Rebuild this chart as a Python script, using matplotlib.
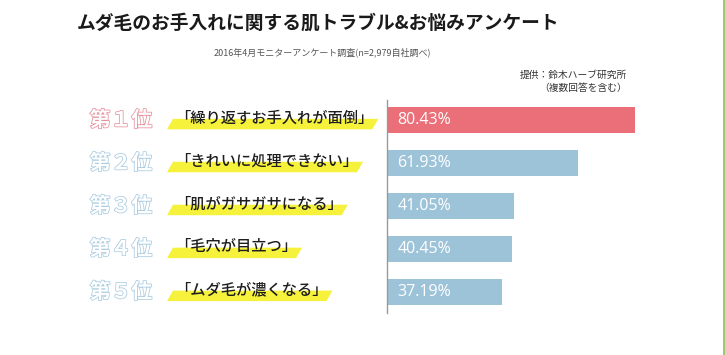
import matplotlib
matplotlib.use('Agg')
import matplotlib.pyplot as plt
import matplotlib.transforms as mtransforms
import matplotlib.patheffects as pe
from matplotlib.patches import Polygon
from matplotlib.lines import Line2D

plt.rcParams['font.family'] = ['Noto Sans CJK JP', 'DejaVu Sans']

# ==========================================
# Data
# ==========================================
ranks = ['第１位', '第２位', '第３位', '第４位', '第５位']
items = ['「繰り返すお手入れが面倒」', '「きれいに処理できない」', '「肌がガサガサになる」',
         '「毛穴が目立つ」', '「ムダ毛が濃くなる」']
values = [80.43, 61.93, 41.05, 40.45, 37.19]

TITLE = 'ムダ毛のお手入れに関する肌トラブル&お悩みアンケート'
SUBTITLE = '2016年4月モニターアンケート調査(n=2,979自社調べ)'
SOURCE = ['提供：鈴木ハーブ研究所', '（複数回答を含む）']

RED = '#ea6f78'
BLUE = '#9dc3d9'
RANK_RED = '#e58f9b'
RANK_BLUE = '#a9cbe0'
YELLOW = '#f6f23c'

W, H = 725, 355
fig = plt.figure(figsize=(W / 100, H / 100), dpi=100)
fig.patch.set_facecolor('white')

# axes from x=387px to 700px, y=100px to 313px
ax = fig.add_axes([387 / W, 1 - 313 / H, 313 / W, 213 / H])
ypos = list(range(len(values)))
colors = [RED] + [BLUE] * (len(values) - 1)
ax.barh(ypos, values, height=0.6, color=colors)
ax.set_xlim(0, 101.5)
ax.set_ylim(4.495, -0.465)
for s in ['top', 'right', 'bottom']:
    ax.spines[s].set_visible(False)
ax.spines['left'].set_color('#9a9a9a')
ax.spines['left'].set_linewidth(1.0)
ax.set_xticks([])
ax.set_yticks([])

for i, v in enumerate(values):
    ax.annotate(f'{v:.2f}%', xy=(0, i), xytext=(7.5, 0), textcoords='offset points',
                ha='left', va='center', color='white', fontsize=11.5,
                family=['Open Sans', 'DejaVu Sans'])

# left side labels: x in figure fraction, y in data
blend = mtransforms.blended_transform_factory(fig.transFigure, ax.transData)
item_texts = []
for i, (r, it) in enumerate(zip(ranks, items)):
    stroke = RANK_RED if i == 0 else RANK_BLUE
    ax.text(121 / W, i, r, transform=blend, ha='center', va='center', fontsize=15,
            fontweight='bold', color='white', clip_on=False,
            path_effects=[pe.withStroke(linewidth=1.1, foreground=stroke)])
    t = ax.text(175 / W, i - 0.05, it, transform=blend, ha='left', va='center',
                fontsize=11, fontweight='medium', color='#1e1e1e', clip_on=False, zorder=3)
    item_texts.append(t)

# titles
fig.text(318 / W, 1 - 23 / H, TITLE, ha='center', va='center', fontsize=13.5,
         fontweight='bold', color='#1a1a1a')
fig.text(322 / W, 1 - 52 / H, SUBTITLE, ha='center', va='center', fontsize=6.5,
         color='#555555')
fig.text(627 / W, 1 - 75 / H, SOURCE[0], ha='right', va='center', fontsize=7, color='#333333')
fig.text(627 / W, 1 - 88 / H, SOURCE[1], ha='right', va='center', fontsize=7, color='#333333')

# green edge line at the right
fig.add_artist(Line2D([724 / W, 724 / W], [0, 1], color='#86c24a', linewidth=1.2))

# yellow marker strokes under the item labels
fig.canvas.draw()
renderer = fig.canvas.get_renderer()
inv = fig.transFigure.inverted()
for t in item_texts:
    bb = t.get_window_extent(renderer)
    x0, x1 = bb.x0, bb.x1
    ymid = (bb.y0 + bb.y1) / 2 - 1
    ybot = bb.y0 - 3
    pts = [(x0 - 2, ymid), (x1 + 5, ymid), (x1 - 1, ybot), (x0 - 8, ybot)]
    pts = inv.transform(pts)
    fig.add_artist(Polygon(pts, closed=True, facecolor=YELLOW, edgecolor='none',
                           transform=fig.transFigure, zorder=1))
for t in item_texts:
    t.remove()
    fig.add_artist(t)

fig.savefig('out.png', dpi=100, facecolor='white')
